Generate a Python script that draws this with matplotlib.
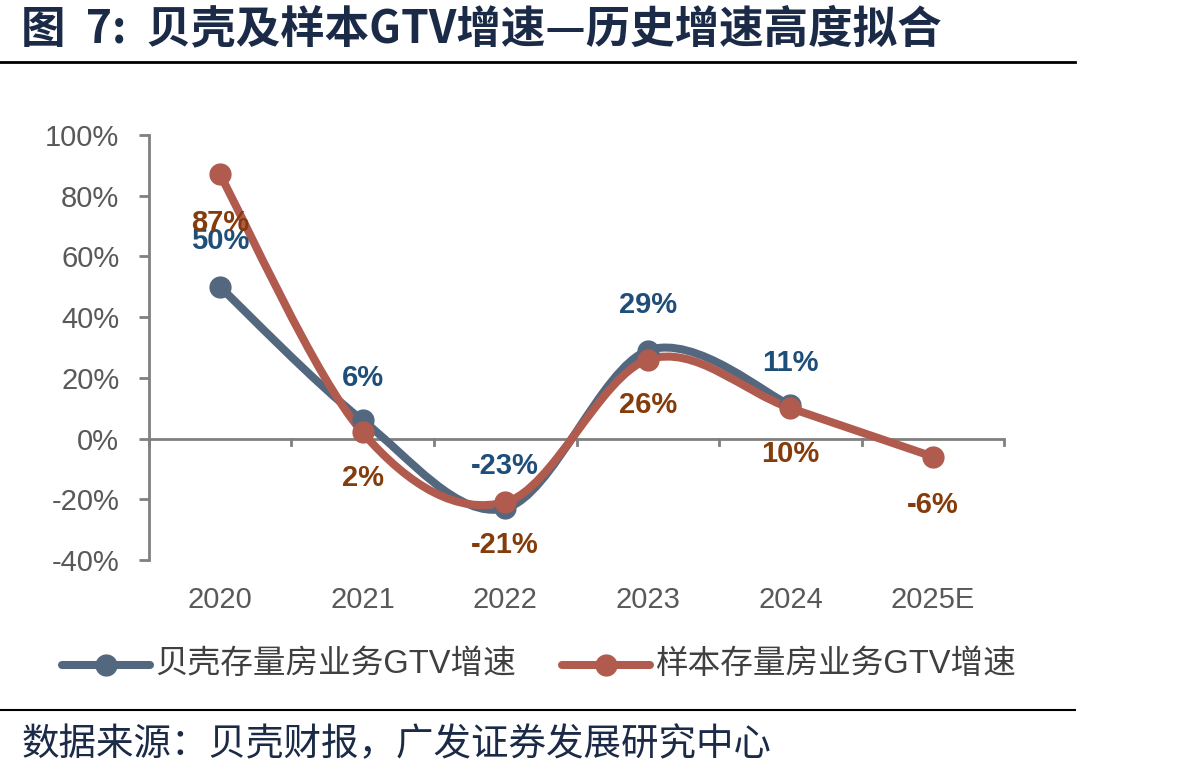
import numpy as np
import matplotlib
matplotlib.use("Agg")
import matplotlib.pyplot as plt
from matplotlib.path import Path
from matplotlib.patches import PathPatch
from matplotlib.lines import Line2D

plt.rcParams['font.family'] = ['Liberation Sans', 'Noto Sans CJK SC', 'DejaVu Sans']

# ~~~ data ~~~
years = ['2020', '2021', '2022', '2023', '2024', '2025E']
beike = [50, 6, -23, 29, 11]
sample = [87, 2, -21, 26, 10, -6]
beike_labels = ['50%', '6%', '-23%', '29%', '11%']
sample_labels = ['87%', '2%', '-21%', '26%', '10%', '-6%']
names = ['贝壳存量房业务GTV增速', '样本存量房业务GTV增速']

c_blue = '#53687f'
c_red = '#b05b4e'
t_blue = '#1f4e79'
t_red = '#843c0c'
navy = '#1b2a47'
gray = '#808080'
cjk = ['Noto Sans CJK SC', 'DejaVu Sans']


def smooth_path(xs, ys):
    # Excel style smoothed line: cubic bezier, catmull-rom tangents
    p = np.column_stack([xs, ys]).astype(float)
    verts = [p[0]]
    codes = [Path.MOVETO]
    n = len(p)
    for i in range(n - 1):
        p0 = p[i - 1] if i > 0 else p[i]
        p3 = p[i + 2] if i + 2 < n else p[i + 1]
        c1 = p[i] + (p[i + 1] - p0) / 6.0
        c2 = p[i + 1] - (p3 - p[i]) / 6.0
        verts += [c1, c2, p[i + 1]]
        codes += [Path.CURVE4] * 3
    return Path(verts, codes)


fig = plt.figure(figsize=(11.91, 7.8), dpi=100)
ax = fig.add_axes([0.1247, 0.2821, 0.8434 - 0.1247, 0.8269 - 0.2821])

lw, ms = 5.8, 15
x = np.arange(len(years))
for vals, col in [(beike, c_blue), (sample, c_red)]:
    xx = x[:len(vals)]
    ax.add_patch(PathPatch(smooth_path(xx, vals), fill=False, edgecolor=col,
                           lw=lw, capstyle='round', joinstyle='round', zorder=3))
    ax.plot(xx, vals, 'o', color=col, ms=ms, zorder=4)

ax.set_xlim(-0.5, 5.5)
ax.set_ylim(-40, 100)
ax.set_yticks(range(-40, 101, 20))
ax.set_yticklabels([f'{v}%' for v in range(-40, 101, 20)])

for s in ['top', 'right', 'bottom']:
    ax.spines[s].set_visible(False)
ax.spines['left'].set_color(gray)
ax.spines['left'].set_linewidth(2)
ax.axhline(0, color=gray, lw=2, zorder=2)
for b in np.arange(-0.5, 5.6, 1.0):
    ax.plot([b, b], [0, -2.2], color=gray, lw=2, zorder=2, clip_on=False)

ax.tick_params(axis='y', length=7, width=2, color=gray, labelsize=21,
               labelcolor='#595959', pad=14)
ax.set_xticks(x)
ax.set_xticklabels(years)
ax.tick_params(axis='x', length=0, labelsize=21, labelcolor='#595959', pad=19)

# data labels
boff = [15, 14, 14, 15, 14]
for i, (v, lab) in enumerate(zip(beike, beike_labels)):
    ax.text(i, v + boff[i], lab, ha='center', va='center', fontsize=21,
            fontweight='bold', color=t_blue, zorder=5)
roff = [-16, -15, -14, -15, -15, -16]
for i, (v, lab) in enumerate(zip(sample, sample_labels)):
    ax.text(i, v + roff[i], lab, ha='center', va='center', fontsize=21,
            fontweight='bold', color=t_red, zorder=5)

# legend, drawn by hand in figure coordinates
ly = 1 - 665 / 780
for (x0, x1, tx), col, name in zip([(62, 150, 155), (562, 650, 655)],
                                   [c_blue, c_red], names):
    fig.add_artist(Line2D([x0 / 1191, x1 / 1191], [ly, ly], color=col, lw=lw,
                          solid_capstyle='round'))
    fig.add_artist(Line2D([(x0 + x1) / 2 / 1191], [ly], color=col, marker='o',
                          ms=ms))
    fig.text(tx / 1191, ly, name, fontsize=23.5, color='#404040', va='center')

# title, rules, source
fig.text(0.018, 0.962, '图  7:  贝壳及样本GTV增速—历史增速高度拟合', fontsize=32,
         fontweight='bold', color=navy, va='center', family=cjk)
fig.add_artist(Line2D([0, 0.903], [0.921, 0.921], color='black', lw=2))
fig.add_artist(Line2D([0, 0.903], [0.090, 0.090], color='black', lw=1.5))
fig.text(0.018, 0.045, '数据来源：贝壳财报，广发证券发展研究中心', fontsize=27,
         color=navy, va='center', family=cjk)

fig.savefig('out.png', dpi=100)
